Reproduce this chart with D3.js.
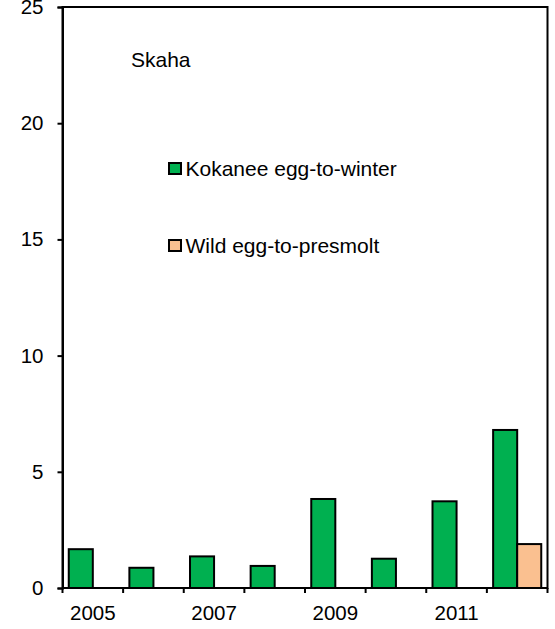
<!DOCTYPE html>
<html>
<head>
<meta charset="utf-8">
<script src="https://cdn.jsdelivr.net/npm/d3@7"></script>
<style>
  html, body { margin: 0; padding: 0; background: #fff; }
  svg { display: block; }
  text { font-family: "Liberation Sans", Arial, sans-serif; fill: #000; }
</style>
</head>
<body>
<svg id="chart" width="555" height="629"></svg>
<script>
const years = ["2005", "2006", "2007", "2008", "2009", "2010", "2011", "2012"];
const seriesNames = ["Kokanee egg-to-winter", "Wild egg-to-presmolt"];
const kokanee = [1.67, 0.87, 1.36, 0.95, 3.83, 1.26, 3.73, 6.80];
const wild = [null, null, null, null, null, null, null, 1.89];
const yTicks = [0, 5, 10, 15, 20, 25];
const xTickLabels = ["2005", "2007", "2009", "2011"];
const colors = ["#00B050", "#FAC090"];
const panelTitle = "Skaha";

const svg = d3.select("#chart");
const mLeft = 62.5, mRight = 547.5, mTop = 7, mBottom = 588;

const x0 = d3.scaleBand().domain(years).range([mLeft, mRight]).paddingInner(0).paddingOuter(0);
const x1 = d3.scaleBand().domain(seriesNames).range([0, x0.bandwidth()]).paddingInner(0).paddingOuter(0.26);
const y = d3.scaleLinear().domain([0, 25]).range([mBottom, mTop]);

// bars
const data = years.map((yr, i) => ({ year: yr, values: [kokanee[i], wild[i]] }));
const groups = svg.append("g").selectAll("g").data(data).join("g")
  .attr("transform", d => `translate(${x0(d.year)},0)`);
groups.selectAll("rect")
  .data(d => d.values.map((v, j) => ({ v, s: seriesNames[j], j })).filter(e => e.v != null))
  .join("rect")
  .attr("x", e => x1(e.s))
  .attr("y", e => y(e.v))
  .attr("width", x1.bandwidth())
  .attr("height", e => y(0) - y(e.v))
  .attr("fill", e => colors[e.j])
  .attr("stroke", "#000")
  .attr("stroke-width", 2);

// frame
svg.append("rect")
  .attr("x", mLeft).attr("y", mTop)
  .attr("width", mRight - mLeft).attr("height", mBottom - mTop)
  .attr("fill", "none").attr("stroke", "#000").attr("stroke-width", 2);

// y axis
const yAxis = d3.axisLeft(y).tickValues(yTicks).tickSize(5).tickPadding(14).tickFormat(d3.format("d"));
const gy = svg.append("g").attr("transform", `translate(${mLeft},0)`).call(yAxis);
gy.select(".domain").attr("stroke-width", 2);
gy.selectAll(".tick line").attr("stroke-width", 2);
gy.selectAll(".tick text").attr("font-size", 20.5).attr("font-family", "Liberation Sans, Arial, sans-serif");

// x axis: ticks at category boundaries
const boundaries = years.map(yr => x0(yr)).concat([mRight]);
const gx = svg.append("g");
gx.append("line").attr("x1", mLeft).attr("x2", mRight).attr("y1", mBottom).attr("y2", mBottom)
  .attr("stroke", "#000").attr("stroke-width", 2);
gx.selectAll("line.tk").data(boundaries).join("line").attr("class", "tk")
  .attr("x1", d => d).attr("x2", d => d).attr("y1", mBottom).attr("y2", mBottom + 5)
  .attr("stroke", "#000").attr("stroke-width", 2);
gx.selectAll("text").data(xTickLabels).join("text")
  .attr("x", d => x0(d) + x0.bandwidth() / 2)
  .attr("y", 620)
  .attr("text-anchor", "middle")
  .attr("font-size", 20.5)
  .text(d => d);

// panel title
svg.append("text").attr("x", 131).attr("y", 67).attr("font-size", 21).text(panelTitle);

// legend
const legendY = [176, 253];
const lg = svg.append("g").selectAll("g").data(seriesNames).join("g");
lg.append("rect")
  .attr("x", 169).attr("y", (d, i) => legendY[i] - 13)
  .attr("width", 12).attr("height", 11)
  .attr("fill", (d, i) => colors[i]).attr("stroke", "#000").attr("stroke-width", 2);
lg.append("text")
  .attr("x", 185.5).attr("y", (d, i) => legendY[i])
  .attr("font-size", 21)
  .text(d => d);
</script>
</body>
</html>
